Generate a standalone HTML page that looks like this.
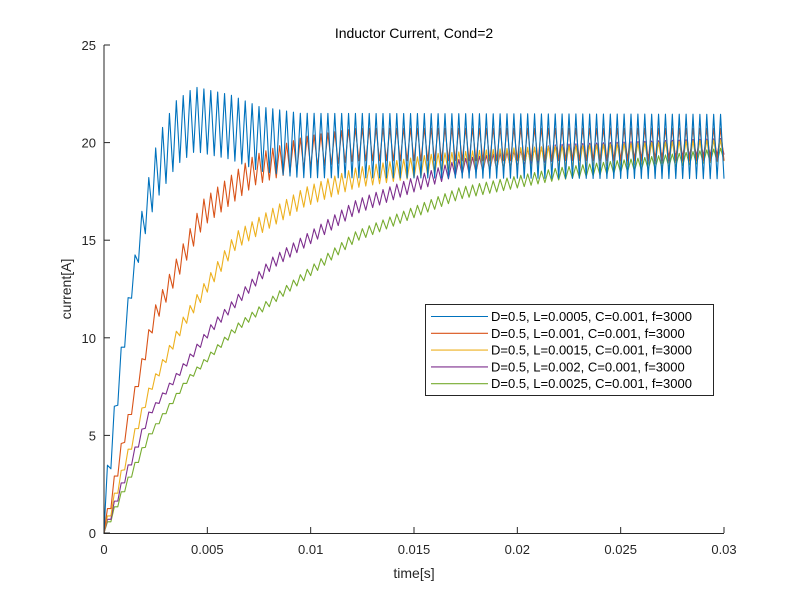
<!DOCTYPE html>
<html><head><meta charset="utf-8"><style>
body{margin:0;background:#fff;}
svg{display:block;font-family:"Liberation Sans","Noto Sans CJK JP",sans-serif;}
</style></head><body>
<svg id="s" width="800" height="600" viewBox="0 0 800 600" xmlns="http://www.w3.org/2000/svg">
<rect width="800" height="600" fill="#fff"/>
<g id="plots" fill="none" stroke-width="1.1" stroke-linejoin="round"></g>
<g stroke="#262626" stroke-width="1" fill="none">
<line x1="104" y1="45" x2="104" y2="533.5"/>
<line x1="103.5" y1="533.5" x2="724" y2="533.5"/>
</g>
<g id="ticks" stroke="#262626" stroke-width="1"></g>
<g font-size="13" fill="#262626" text-anchor="middle" id="xl"></g>
<g font-size="13" fill="#262626" text-anchor="end" id="yl"></g>
<text x="414" y="38" font-size="14" text-anchor="middle" fill="#000">Inductor Current, Cond=2</text>
<text x="414" y="578" font-size="14" text-anchor="middle" fill="#262626">time[s]</text>
<text x="0" y="0" font-size="14" text-anchor="middle" fill="#262626" transform="translate(71,289) rotate(-90)">current[A]</text>
<rect x="425.5" y="304.5" width="288" height="91" fill="#fff" stroke="#262626" stroke-width="1"/>
<g id="leg" font-size="13" fill="#000"></g>
</svg>
<script>
var NS="http://www.w3.org/2000/svg";
function el(p,t,a,txt){var e=document.createElementNS(NS,t);for(var k in a)e.setAttribute(k,a[k]);if(txt!=null)e.textContent=txt;document.getElementById(p).appendChild(e);return e;}
function X(t){return 104+t/0.03*620;}
function Y(i){return 533-i*19.52;}
var xs=[0,0.005,0.01,0.015,0.02,0.025,0.03];
xs.forEach(function(v){var x=X(v);el("ticks","line",{x1:x,y1:533,x2:x,y2:527});el("xl","text",{x:x,y:554},String(v));});
for(var k=0;k<=5;k++){var y=Y(k*5);el("ticks","line",{x1:104,y1:y,x2:110,y2:y});el("yl","text",{x:96,y:y+5},String(k*5));}
var cols=["#0072BD","#D95319","#EDB120","#7E2F8E","#77AC30"];
var labs=["D=0.5, L=0.0005, C=0.001, f=3000","D=0.5, L=0.001, C=0.001, f=3000","D=0.5, L=0.0015, C=0.001, f=3000","D=0.5, L=0.002, C=0.001, f=3000","D=0.5, L=0.0025, C=0.001, f=3000"];
var A=[3.3,1.65,1.1,0.83,0.66];
var P=[3,1,1,1,1];
var tabs=[
 [[0,0],[0.17,2.5],[0.5,5.7],[0.82,8.7],[1.16,11.4],[1.5,13.7],[1.84,15.7],[2.18,17.2],[2.5,18.4],[2.85,19.3],[3.2,19.9],[3.5,20.5],[4.4,21.2],[6.1,20.8],[7.5,20.2],[9.5,19.85],[30,19.8]],
 [[0,0],[1,5.0],[2.4,11],[4.8,16.4],[7.3,18.6],[9.7,19.5],[12.2,19.9],[30,19.9]],
 [[0,0],[1,3.5],[2.2,7.3],[3.9,10.9],[6.4,15.0],[9.7,17.2],[12.2,18.2],[16,18.9],[20,19.2],[30,19.6]],
 [[0,0],[1,2.8],[2.2,6.1],[5.2,10.5],[8.1,13.8],[12.2,16.7],[17.2,18.75],[22,19.5],[30,19.8]],
 [[0,0],[1,2.3],[2.2,5.0],[4,7.8],[6.4,10.5],[12.2,15.2],[17.2,17.4],[22,18.4],[30,19.4]]
];
function interp(tb,tms){for(var j=1;j<tb.length;j++){if(tms<=tb[j][0]){var a=tb[j-1],b=tb[j];return a[1]+(b[1]-a[1])*(tms-a[0])/(b[0]-a[0]);}}return tb[tb.length-1][1];}
var T=1/3000;
for(var s=4;s>=0;s--){
  var tb=tabs[s],mss=tb[tb.length-1][1],mmax=0,pts=[];
  var m=function(t){return interp(tb,t*1000);};
  for(var k=0;k<90;k++){
    var t0=k*T,tm=t0+T/2,t1=t0+T;
    var mm=m(tm);if(mm>mmax)mmax=mm;
    var g=Math.pow(Math.min(1,mmax/mss),P[s]);
    var d=Math.max(A[s]*g/2,(m(t1)-m(t0))/4);
    var tr=(k==0)?0:m(t0)-d;
    pts.push(X(t0).toFixed(2)+","+Y(Math.max(0,tr)).toFixed(2));
    pts.push(X(tm).toFixed(2)+","+Y(mm+d).toFixed(2));
  }
  pts.push(X(0.03).toFixed(2)+","+Y(m(0.03)-A[s]/2).toFixed(2));
  el("plots","polyline",{points:pts.join(" "),stroke:cols[s]});
}
for(var k=0;k<5;k++){var y=316.5+k*16.8;el("leg","line",{x1:431,y1:y,x2:488,y2:y,stroke:cols[k],"stroke-width":1.1});el("leg","text",{x:491,y:y+4.5},labs[k]);}
</script>
</body></html>
